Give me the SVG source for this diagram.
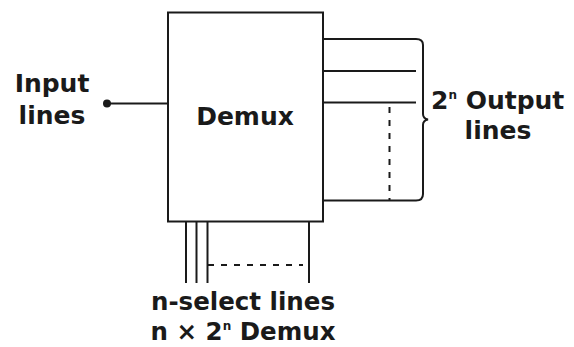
<svg xmlns="http://www.w3.org/2000/svg" width="574" height="347" viewBox="0 0 574 347">
<style>
.ln{stroke:#1a1a1a;stroke-width:2;fill:none}
.dash{stroke:#1a1a1a;stroke-width:2;fill:none;stroke-dasharray:6 7}
.t{font-family:"DejaVu Sans","Verdana",sans-serif;font-weight:bold;font-size:25px;fill:#1a1a1a}
.b{font-size:24.5px}
.sup{font-size:12px}
</style>
<rect width="574" height="347" fill="#ffffff"/>
<g id="demux">
<rect class="ln" x="168" y="12.5" width="155" height="209"/>
<text class="t" x="245" y="125" text-anchor="middle">Demux</text>
</g>
<g id="input">
<text class="t" x="52" y="92" text-anchor="middle">Input</text>
<text class="t" x="52" y="123.5" text-anchor="middle">lines</text>
<circle cx="107" cy="103.5" r="4" fill="#1a1a1a"/>
</g>
<g id="outputs">
<text class="t" x="431" y="108.5">2<tspan class="sup" dy="-10">n</tspan><tspan dy="10"> Output</tspan></text>
<text class="t" x="498" y="138.5" text-anchor="middle">lines</text>
</g>
<g id="select">
<text class="t b" x="243" y="310" text-anchor="middle">n-select lines</text>
<text class="t b" x="243" y="340" text-anchor="middle">n × 2<tspan class="sup" dy="-10">n</tspan><tspan dy="10"> Demux</tspan></text>
</g>
<g id="connectors">
<line class="ln" x1="107" y1="103.5" x2="168" y2="103.5"/>
<line class="ln" x1="323" y1="39" x2="416" y2="39"/>
<line class="ln" x1="323" y1="71" x2="416" y2="71"/>
<line class="ln" x1="323" y1="102.5" x2="416" y2="102.5"/>
<line class="ln" x1="323" y1="200.5" x2="416" y2="200.5"/>
<line class="dash" x1="389.5" y1="107" x2="389.5" y2="200"/>
<path class="ln" d="M416 39 Q423 39 423 45 L423 114 Q423 118.5 428 119.5 Q423 120.5 423 125 L423 194 Q423 200.5 416 200.5"/>
<line class="ln" x1="186" y1="221.5" x2="186" y2="283"/>
<line class="ln" x1="196.5" y1="221.5" x2="196.5" y2="283"/>
<line class="ln" x1="207.5" y1="221.5" x2="207.5" y2="283"/>
<line class="ln" x1="309" y1="221.5" x2="309" y2="283"/>
<line class="dash" x1="208" y1="265" x2="303" y2="265"/>
</g>
</svg>
